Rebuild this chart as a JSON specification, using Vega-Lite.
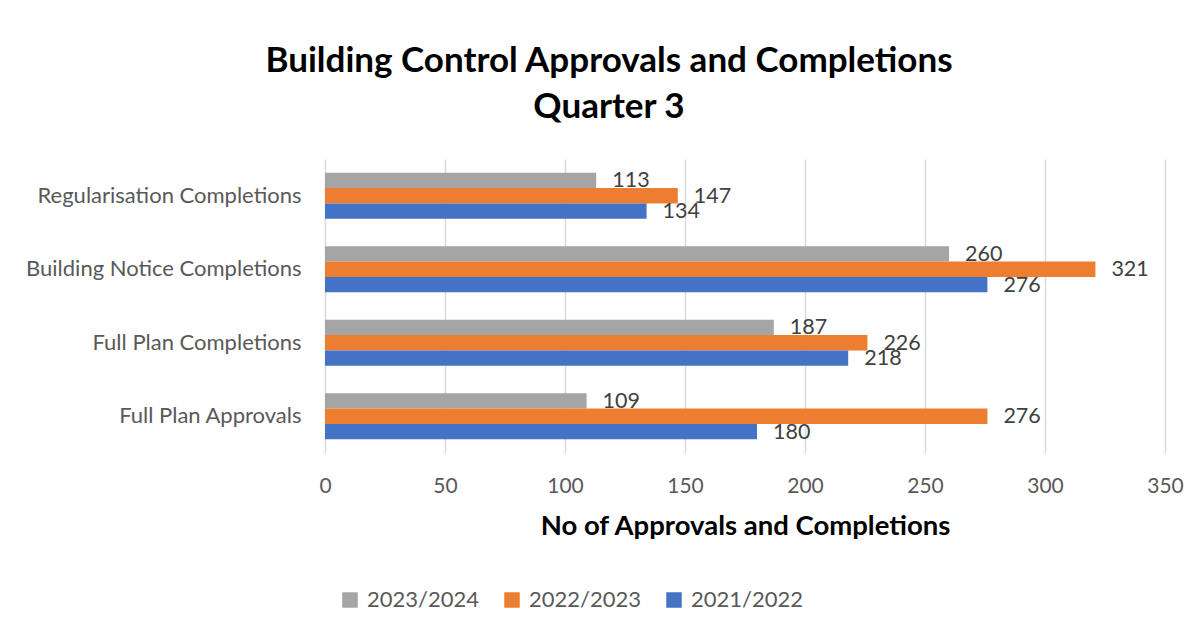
{
  "$schema": "https://vega.github.io/schema/vega-lite/v6.json",
  "width": 840,
  "height": 294,
  "autosize": {"type": "none"},
  "padding": {"left": 325, "top": 159, "right": 35, "bottom": 181},
  "background": "white",
  "title": {
    "text": ["Building Control Approvals and Completions", "Quarter 3"],
    "font": "Lato",
    "fontSize": 35,
    "fontWeight": "bold",
    "color": "#000000",
    "anchor": "middle",
    "frame": "group",
    "dx": -136,
    "offset": 34,
    "lineHeight": 46
  },
  "data": {
    "values": [
      {"category": "Regularisation Completions", "series": "2023/2024", "value": 113},
      {"category": "Regularisation Completions", "series": "2022/2023", "value": 147},
      {"category": "Regularisation Completions", "series": "2021/2022", "value": 134},
      {"category": "Building Notice Completions", "series": "2023/2024", "value": 260},
      {"category": "Building Notice Completions", "series": "2022/2023", "value": 321},
      {"category": "Building Notice Completions", "series": "2021/2022", "value": 276},
      {"category": "Full Plan Completions", "series": "2023/2024", "value": 187},
      {"category": "Full Plan Completions", "series": "2022/2023", "value": 226},
      {"category": "Full Plan Completions", "series": "2021/2022", "value": 218},
      {"category": "Full Plan Approvals", "series": "2023/2024", "value": 109},
      {"category": "Full Plan Approvals", "series": "2022/2023", "value": 276},
      {"category": "Full Plan Approvals", "series": "2021/2022", "value": 180}
    ]
  },
  "encoding": {
    "y": {
      "field": "category",
      "type": "nominal",
      "sort": ["Regularisation Completions", "Building Notice Completions", "Full Plan Completions", "Full Plan Approvals"],
      "scale": {"paddingInner": 0.374, "paddingOuter": 0.187},
      "axis": {
        "title": null,
        "domain": false,
        "ticks": false,
        "grid": false,
        "labelPadding": 24,
        "labelLimit": 0,
        "labelFont": "Lato",
        "labelFontSize": 22,
        "labelColor": "#595959"
      }
    },
    "yOffset": {
      "field": "series",
      "sort": ["2023/2024", "2022/2023", "2021/2022"]
    },
    "x": {
      "field": "value",
      "type": "quantitative",
      "scale": {"domain": [0, 350], "nice": false},
      "axis": {
        "values": [0, 50, 100, 150, 200, 250, 300, 350],
        "title": "No of Approvals and Completions",
        "titleFont": "Lato",
        "titleFontSize": 27.5,
        "titleFontWeight": "bold",
        "titleColor": "#000000",
        "titlePadding": 16,
        "domain": false,
        "ticks": false,
        "tickSize": 0,
        "labelFlush": false,
        "labelPadding": 22,
        "labelFont": "Lato",
        "labelFontSize": 21,
        "labelColor": "#595959",
        "grid": true,
        "gridColor": "#D9D9D9",
        "gridWidth": 1.5
      }
    }
  },
  "layer": [
    {
      "mark": {"type": "bar"},
      "encoding": {
        "color": {
          "field": "series",
          "type": "nominal",
          "scale": {
            "domain": ["2023/2024", "2022/2023", "2021/2022"],
            "range": ["#A5A5A5", "#ED7D31", "#4472C4"]
          },
          "legend": {
            "title": null,
            "orient": "none",
            "direction": "horizontal",
            "legendX": 14,
            "legendY": 430,
            "padding": 0,
            "symbolType": "square",
            "symbolSize": 240,
            "symbolStrokeWidth": 0,
            "symbolOpacity": 1,
            "labelFont": "Lato",
            "labelFontSize": 22,
            "labelColor": "#595959",
            "labelOffset": 6,
            "columnPadding": 21
          }
        }
      }
    },
    {
      "mark": {
        "type": "text",
        "align": "left",
        "baseline": "middle",
        "dx": 16,
        "dy": 1,
        "font": "Lato",
        "fontSize": 21.5,
        "color": "#404040"
      },
      "encoding": {
        "text": {"field": "value", "type": "quantitative"}
      }
    }
  ],
  "config": {
    "view": {"stroke": null}
  }
}
